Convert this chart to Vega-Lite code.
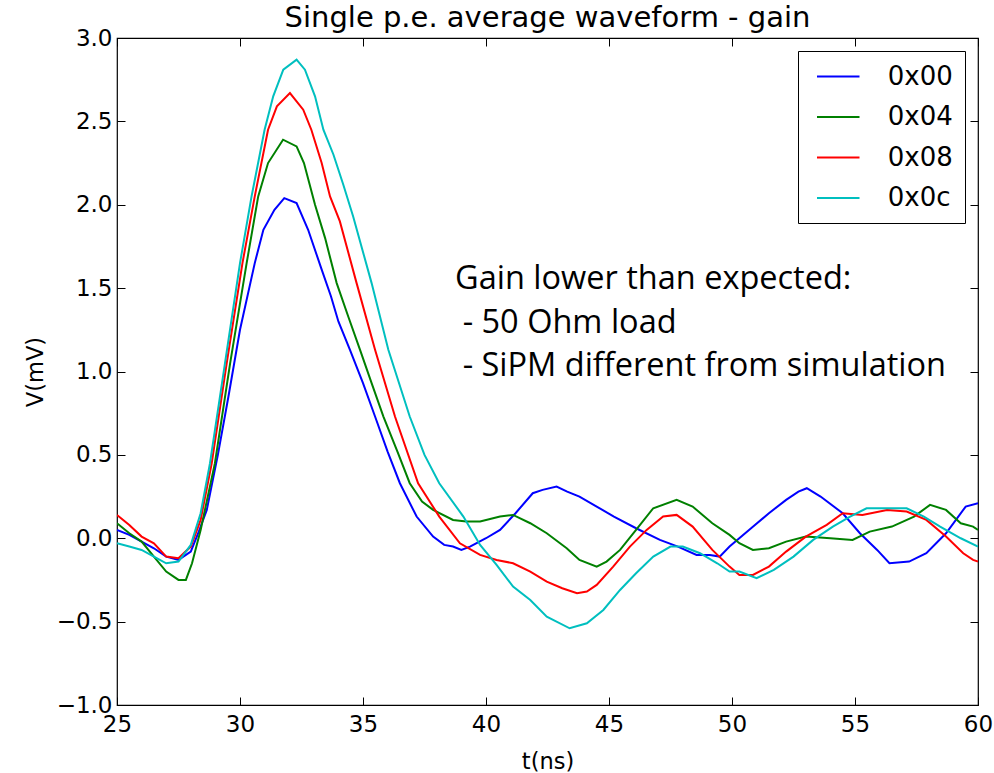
{
  "$schema": "https://vega.github.io/schema/vega-lite/v6.json",
  "autosize": "none",
  "width": 861,
  "height": 667,
  "padding": {"left": 117, "top": 38, "right": 16, "bottom": 68},
  "background": "white",
  "title": {"text": "Single p.e. average waveform - gain", "font": "DejaVu Sans", "fontSize": 29, "fontWeight": "normal", "color": "black", "offset": -6},
  "config": {
    "view": {"stroke": "black", "strokeWidth": 1.2},
    "axis": {"domain": false, "grid": false, "tickColor": "black", "tickWidth": 1, "labelColor": "black", "labelFont": "DejaVu Sans", "labelFontSize": 23, "titleFont": "DejaVu Sans", "titleFontSize": 22.5, "titleFontWeight": "normal", "titleColor": "black"}
  },
  "datasets": {
    "wave": [
      {"t":25,"v":0.05,"s":"0x00"},{"t":25.5,"v":0.02,"s":"0x00"},{"t":26,"v":-0.02,"s":"0x00"},{"t":26.5,"v":-0.06,"s":"0x00"},{"t":27,"v":-0.11,"s":"0x00"},{"t":27.5,"v":-0.13,"s":"0x00"},{"t":28,"v":-0.08,"s":"0x00"},{"t":28.3,"v":0.03,"s":"0x00"},{"t":28.65,"v":0.17,"s":"0x00"},{"t":29.1,"v":0.5,"s":"0x00"},{"t":29.53,"v":0.85,"s":"0x00"},{"t":30.0,"v":1.25,"s":"0x00"},{"t":30.6,"v":1.65,"s":"0x00"},{"t":30.95,"v":1.85,"s":"0x00"},{"t":31.4,"v":1.97,"s":"0x00"},{"t":31.8,"v":2.04,"s":"0x00"},{"t":32.3,"v":2.01,"s":"0x00"},{"t":32.77,"v":1.85,"s":"0x00"},{"t":33.3,"v":1.62,"s":"0x00"},{"t":33.7,"v":1.45,"s":"0x00"},{"t":34.0,"v":1.3,"s":"0x00"},{"t":34.47,"v":1.13,"s":"0x00"},{"t":35.0,"v":0.93,"s":"0x00"},{"t":35.49,"v":0.73,"s":"0x00"},{"t":36.0,"v":0.52,"s":"0x00"},{"t":36.5,"v":0.33,"s":"0x00"},{"t":37.18,"v":0.13,"s":"0x00"},{"t":37.85,"v":0.01,"s":"0x00"},{"t":38.3,"v":-0.04,"s":"0x00"},{"t":38.66,"v":-0.05,"s":"0x00"},{"t":39.0,"v":-0.07,"s":"0x00"},{"t":39.35,"v":-0.05,"s":"0x00"},{"t":40.0,"v":0.0,"s":"0x00"},{"t":40.57,"v":0.05,"s":"0x00"},{"t":41.2,"v":0.15,"s":"0x00"},{"t":41.9,"v":0.27,"s":"0x00"},{"t":42.3,"v":0.29,"s":"0x00"},{"t":42.87,"v":0.31,"s":"0x00"},{"t":43.3,"v":0.28,"s":"0x00"},{"t":43.8,"v":0.25,"s":"0x00"},{"t":44.5,"v":0.19,"s":"0x00"},{"t":45.2,"v":0.13,"s":"0x00"},{"t":46.1,"v":0.06,"s":"0x00"},{"t":47.07,"v":-0.01,"s":"0x00"},{"t":47.8,"v":-0.05,"s":"0x00"},{"t":48.56,"v":-0.1,"s":"0x00"},{"t":49.1,"v":-0.1,"s":"0x00"},{"t":49.5,"v":-0.11,"s":"0x00"},{"t":49.9,"v":-0.05,"s":"0x00"},{"t":50.86,"v":0.07,"s":"0x00"},{"t":51.5,"v":0.15,"s":"0x00"},{"t":52.2,"v":0.23,"s":"0x00"},{"t":52.7,"v":0.28,"s":"0x00"},{"t":53.04,"v":0.3,"s":"0x00"},{"t":53.6,"v":0.25,"s":"0x00"},{"t":54.5,"v":0.15,"s":"0x00"},{"t":55.2,"v":0.03,"s":"0x00"},{"t":55.9,"v":-0.07,"s":"0x00"},{"t":56.4,"v":-0.15,"s":"0x00"},{"t":57.2,"v":-0.14,"s":"0x00"},{"t":57.9,"v":-0.09,"s":"0x00"},{"t":58.7,"v":0.03,"s":"0x00"},{"t":59.5,"v":0.19,"s":"0x00"},{"t":60,"v":0.21,"s":"0x00"},

      {"t":25,"v":0.09,"s":"0x04"},{"t":25.5,"v":0.03,"s":"0x04"},{"t":26,"v":-0.02,"s":"0x04"},{"t":26.5,"v":-0.11,"s":"0x04"},{"t":27,"v":-0.2,"s":"0x04"},{"t":27.5,"v":-0.25,"s":"0x04"},{"t":27.8,"v":-0.25,"s":"0x04"},{"t":28.05,"v":-0.15,"s":"0x04"},{"t":28.4,"v":0.05,"s":"0x04"},{"t":28.98,"v":0.45,"s":"0x04"},{"t":29.6,"v":1.05,"s":"0x04"},{"t":30.27,"v":1.65,"s":"0x04"},{"t":30.74,"v":2.05,"s":"0x04"},{"t":31.14,"v":2.25,"s":"0x04"},{"t":31.75,"v":2.39,"s":"0x04"},{"t":32.3,"v":2.35,"s":"0x04"},{"t":32.6,"v":2.25,"s":"0x04"},{"t":33.05,"v":2.0,"s":"0x04"},{"t":33.46,"v":1.8,"s":"0x04"},{"t":33.93,"v":1.53,"s":"0x04"},{"t":34.4,"v":1.33,"s":"0x04"},{"t":34.88,"v":1.13,"s":"0x04"},{"t":35.35,"v":0.93,"s":"0x04"},{"t":35.83,"v":0.73,"s":"0x04"},{"t":36.4,"v":0.52,"s":"0x04"},{"t":36.9,"v":0.33,"s":"0x04"},{"t":37.4,"v":0.22,"s":"0x04"},{"t":37.85,"v":0.17,"s":"0x04"},{"t":38.66,"v":0.11,"s":"0x04"},{"t":39.2,"v":0.1,"s":"0x04"},{"t":39.76,"v":0.1,"s":"0x04"},{"t":40.57,"v":0.13,"s":"0x04"},{"t":41.1,"v":0.14,"s":"0x04"},{"t":41.8,"v":0.09,"s":"0x04"},{"t":42.47,"v":0.03,"s":"0x04"},{"t":43.28,"v":-0.06,"s":"0x04"},{"t":43.8,"v":-0.13,"s":"0x04"},{"t":44.5,"v":-0.17,"s":"0x04"},{"t":44.9,"v":-0.14,"s":"0x04"},{"t":45.45,"v":-0.07,"s":"0x04"},{"t":46.1,"v":0.05,"s":"0x04"},{"t":46.8,"v":0.18,"s":"0x04"},{"t":47.75,"v":0.23,"s":"0x04"},{"t":48.4,"v":0.19,"s":"0x04"},{"t":49.2,"v":0.09,"s":"0x04"},{"t":49.9,"v":0.02,"s":"0x04"},{"t":50.3,"v":-0.03,"s":"0x04"},{"t":50.85,"v":-0.07,"s":"0x04"},{"t":51.5,"v":-0.06,"s":"0x04"},{"t":52.2,"v":-0.02,"s":"0x04"},{"t":53.0,"v":0.01,"s":"0x04"},{"t":54.0,"v":0.0,"s":"0x04"},{"t":54.9,"v":-0.01,"s":"0x04"},{"t":55.6,"v":0.04,"s":"0x04"},{"t":56.5,"v":0.07,"s":"0x04"},{"t":57.4,"v":0.13,"s":"0x04"},{"t":58.05,"v":0.2,"s":"0x04"},{"t":58.7,"v":0.17,"s":"0x04"},{"t":59.3,"v":0.09,"s":"0x04"},{"t":59.8,"v":0.07,"s":"0x04"},{"t":60,"v":0.05,"s":"0x04"},

      {"t":25,"v":0.14,"s":"0x08"},{"t":25.5,"v":0.08,"s":"0x08"},{"t":26,"v":0.01,"s":"0x08"},{"t":26.5,"v":-0.03,"s":"0x08"},{"t":27,"v":-0.11,"s":"0x08"},{"t":27.5,"v":-0.12,"s":"0x08"},{"t":28,"v":-0.05,"s":"0x08"},{"t":28.4,"v":0.11,"s":"0x08"},{"t":28.85,"v":0.45,"s":"0x08"},{"t":29.46,"v":1.05,"s":"0x08"},{"t":30.1,"v":1.65,"s":"0x08"},{"t":30.6,"v":2.05,"s":"0x08"},{"t":31.14,"v":2.45,"s":"0x08"},{"t":31.5,"v":2.59,"s":"0x08"},{"t":32.03,"v":2.67,"s":"0x08"},{"t":32.57,"v":2.57,"s":"0x08"},{"t":32.9,"v":2.45,"s":"0x08"},{"t":33.32,"v":2.25,"s":"0x08"},{"t":33.66,"v":2.05,"s":"0x08"},{"t":34.06,"v":1.9,"s":"0x08"},{"t":34.74,"v":1.53,"s":"0x08"},{"t":35.49,"v":1.13,"s":"0x08"},{"t":36.3,"v":0.73,"s":"0x08"},{"t":37.24,"v":0.33,"s":"0x08"},{"t":38.1,"v":0.13,"s":"0x08"},{"t":38.94,"v":-0.03,"s":"0x08"},{"t":39.76,"v":-0.1,"s":"0x08"},{"t":40.43,"v":-0.13,"s":"0x08"},{"t":41.1,"v":-0.15,"s":"0x08"},{"t":41.8,"v":-0.2,"s":"0x08"},{"t":42.47,"v":-0.26,"s":"0x08"},{"t":43.1,"v":-0.3,"s":"0x08"},{"t":43.7,"v":-0.33,"s":"0x08"},{"t":44.1,"v":-0.32,"s":"0x08"},{"t":44.5,"v":-0.28,"s":"0x08"},{"t":45.17,"v":-0.17,"s":"0x08"},{"t":45.85,"v":-0.05,"s":"0x08"},{"t":46.53,"v":0.05,"s":"0x08"},{"t":47.2,"v":0.13,"s":"0x08"},{"t":47.75,"v":0.14,"s":"0x08"},{"t":48.4,"v":0.07,"s":"0x08"},{"t":49.2,"v":-0.07,"s":"0x08"},{"t":49.9,"v":-0.17,"s":"0x08"},{"t":50.3,"v":-0.22,"s":"0x08"},{"t":50.85,"v":-0.22,"s":"0x08"},{"t":51.5,"v":-0.17,"s":"0x08"},{"t":52.2,"v":-0.08,"s":"0x08"},{"t":53.0,"v":0.01,"s":"0x08"},{"t":53.85,"v":0.08,"s":"0x08"},{"t":54.5,"v":0.15,"s":"0x08"},{"t":55.3,"v":0.14,"s":"0x08"},{"t":56.3,"v":0.17,"s":"0x08"},{"t":57.1,"v":0.16,"s":"0x08"},{"t":57.9,"v":0.11,"s":"0x08"},{"t":58.7,"v":0.01,"s":"0x08"},{"t":59.4,"v":-0.09,"s":"0x08"},{"t":59.8,"v":-0.13,"s":"0x08"},{"t":60,"v":-0.14,"s":"0x08"},

      {"t":25,"v":-0.03,"s":"0x0c"},{"t":25.5,"v":-0.05,"s":"0x0c"},{"t":26,"v":-0.07,"s":"0x0c"},{"t":26.5,"v":-0.11,"s":"0x0c"},{"t":27,"v":-0.15,"s":"0x0c"},{"t":27.5,"v":-0.14,"s":"0x0c"},{"t":28,"v":-0.04,"s":"0x0c"},{"t":28.4,"v":0.15,"s":"0x0c"},{"t":28.78,"v":0.45,"s":"0x0c"},{"t":29.39,"v":1.05,"s":"0x0c"},{"t":30.0,"v":1.65,"s":"0x0c"},{"t":30.47,"v":2.05,"s":"0x0c"},{"t":31.0,"v":2.45,"s":"0x0c"},{"t":31.35,"v":2.65,"s":"0x0c"},{"t":31.76,"v":2.81,"s":"0x0c"},{"t":32.3,"v":2.87,"s":"0x0c"},{"t":32.64,"v":2.81,"s":"0x0c"},{"t":33.05,"v":2.65,"s":"0x0c"},{"t":33.39,"v":2.45,"s":"0x0c"},{"t":33.8,"v":2.3,"s":"0x0c"},{"t":34.2,"v":2.12,"s":"0x0c"},{"t":34.6,"v":1.93,"s":"0x0c"},{"t":35.35,"v":1.53,"s":"0x0c"},{"t":36.03,"v":1.13,"s":"0x0c"},{"t":36.9,"v":0.73,"s":"0x0c"},{"t":37.5,"v":0.5,"s":"0x0c"},{"t":38.1,"v":0.33,"s":"0x0c"},{"t":39.08,"v":0.13,"s":"0x0c"},{"t":39.76,"v":-0.04,"s":"0x0c"},{"t":40.43,"v":-0.16,"s":"0x0c"},{"t":41.1,"v":-0.29,"s":"0x0c"},{"t":41.8,"v":-0.37,"s":"0x0c"},{"t":42.47,"v":-0.47,"s":"0x0c"},{"t":43.4,"v":-0.54,"s":"0x0c"},{"t":44.1,"v":-0.51,"s":"0x0c"},{"t":44.77,"v":-0.43,"s":"0x0c"},{"t":45.45,"v":-0.31,"s":"0x0c"},{"t":46.1,"v":-0.21,"s":"0x0c"},{"t":46.8,"v":-0.11,"s":"0x0c"},{"t":47.5,"v":-0.05,"s":"0x0c"},{"t":48.0,"v":-0.05,"s":"0x0c"},{"t":48.7,"v":-0.09,"s":"0x0c"},{"t":49.4,"v":-0.15,"s":"0x0c"},{"t":49.9,"v":-0.2,"s":"0x0c"},{"t":50.3,"v":-0.2,"s":"0x0c"},{"t":51.0,"v":-0.24,"s":"0x0c"},{"t":51.7,"v":-0.19,"s":"0x0c"},{"t":52.5,"v":-0.11,"s":"0x0c"},{"t":53.3,"v":-0.01,"s":"0x0c"},{"t":54.1,"v":0.07,"s":"0x0c"},{"t":54.8,"v":0.13,"s":"0x0c"},{"t":55.47,"v":0.18,"s":"0x0c"},{"t":56.3,"v":0.18,"s":"0x0c"},{"t":57.1,"v":0.18,"s":"0x0c"},{"t":57.8,"v":0.13,"s":"0x0c"},{"t":58.46,"v":0.07,"s":"0x0c"},{"t":59.3,"v":0.0,"s":"0x0c"},{"t":60,"v":-0.05,"s":"0x0c"}
    ],
    "notes": [
      {"t": 38.74, "v": 1.495, "label": "Gain lower than expected:"},
      {"t": 39.05, "v": 1.23, "label": "- 50 Ohm load"},
      {"t": 39.05, "v": 0.972, "label": "- SiPM different from simulation"}
    ]
  },
  "layer": [
    {
      "data": {"name": "wave"},
      "mark": {"type": "line", "strokeWidth": 2, "clip": true},
      "encoding": {
        "x": {"field": "t", "type": "quantitative", "scale": {"domain": [25, 60], "nice": false, "zero": false},
              "axis": {"orient": "bottom", "title": "t(ns)", "values": [25, 30, 35, 40, 45, 50, 55, 60], "tickSize": -8, "labelPadding": 16, "titlePadding": 14, "labelFlush": false}},
        "y": {"field": "v", "type": "quantitative", "scale": {"domain": [-1, 3], "nice": false, "zero": false},
              "axis": {"orient": "left", "title": "V(mV)", "values": [-1, -0.5, 0, 0.5, 1, 1.5, 2, 2.5, 3], "format": ".1f", "tickSize": -8, "labelPadding": 13, "titlePadding": 9, "labelFlush": false}},
        "color": {"field": "s", "type": "nominal",
                  "scale": {"domain": ["0x00", "0x04", "0x08", "0x0c"], "range": ["#0000ff", "#008000", "#ff0000", "#00bfbf"]},
                  "legend": {"title": null, "orient": "top-right", "offset": 13, "symbolType": "M-1.7,0H1.7", "symbolSize": 625, "symbolStrokeWidth": 2, "symbolOffset": 14.75, "labelFont": "DejaVu Sans", "labelFontSize": 26, "labelColor": "black", "labelOffset": 36, "rowPadding": 13.5, "padding": 12, "fillColor": "white", "strokeColor": "black", "cornerRadius": 0}},
        "detail": {"field": "s"}
      }
    },
    {
      "data": {"name": "notes"},
      "mark": {"type": "text", "font": "Open Sans", "fontSize": 32.5, "align": "left", "baseline": "alphabetic", "color": "black"},
      "encoding": {
        "x": {"field": "t", "type": "quantitative", "axis": {"orient": "top", "labels": false, "title": null, "values": [25, 30, 35, 40, 45, 50, 55, 60], "tickSize": -8}},
        "y": {"field": "v", "type": "quantitative", "axis": {"orient": "right", "labels": false, "title": null, "values": [-1, -0.5, 0, 0.5, 1, 1.5, 2, 2.5, 3], "tickSize": -8}},
        "text": {"field": "label"}
      }
    }
  ],
  "resolve": {"axis": {"x": "independent", "y": "independent"}}
}
